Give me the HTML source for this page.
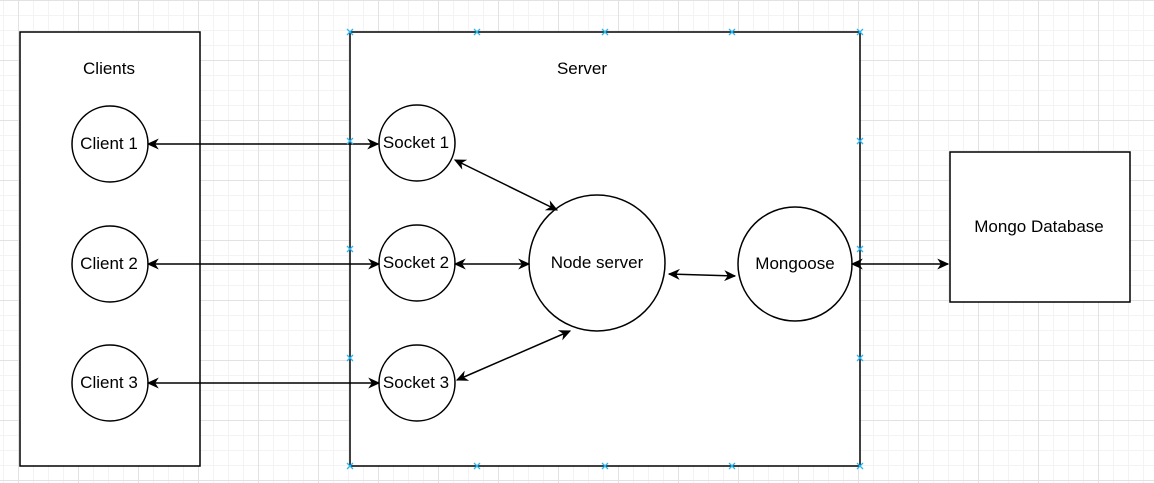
<!DOCTYPE html>
<html><head><style>
html,body{margin:0;padding:0;}
body{width:1154px;height:483px;overflow:hidden;background:#fff;
background-image:
linear-gradient(to right,#e2e2e2 1px,transparent 1px),
linear-gradient(to bottom,#e2e2e2 1px,transparent 1px),
linear-gradient(to right,#f3f3f3 1px,transparent 1px),
linear-gradient(to bottom,#f3f3f3 1px,transparent 1px);
background-size:60px 60px,60px 60px,15px 15px,15px 15px;
background-position:18px 0,0 0,3px 0,0 0;}
text{font-family:"Liberation Sans",sans-serif;font-size:17px;fill:#000;}
</style></head><body>
<svg width="1154" height="483" xmlns="http://www.w3.org/2000/svg" style="position:absolute;left:0;top:0">
<defs>
<marker id="a" viewBox="0 0 10 10" refX="9" refY="5" markerWidth="12" markerHeight="11" orient="auto-start-reverse" markerUnits="userSpaceOnUse" preserveAspectRatio="none">
<path d="M0,0 L10,5 L0,10 L3,5 Z" fill="#000"/>
</marker>
</defs>
<g stroke="#000" stroke-width="1.5">
<rect x="20" y="32" width="180" height="434" fill="#fff"/>
<rect x="350" y="32" width="510" height="434" fill="#fff"/>
<rect x="950" y="152" width="180" height="150" fill="#fff"/>
<circle cx="110" cy="144" r="38" fill="#fff"/>
<circle cx="110" cy="264" r="38" fill="#fff"/>
<circle cx="110" cy="383" r="38" fill="#fff"/>
<circle cx="417" cy="143" r="38" fill="#fff"/>
<circle cx="417" cy="263" r="38" fill="#fff"/>
<circle cx="417" cy="383" r="38" fill="#fff"/>
<circle cx="597" cy="263" r="68" fill="#fff"/>
<circle cx="795" cy="264" r="57" fill="#fff"/>
</g>
<g stroke="#000" stroke-width="1.5" fill="none" marker-start="url(#a)" marker-end="url(#a)">
<line x1="148" y1="144" x2="378" y2="144"/>
<line x1="148" y1="264" x2="379" y2="264"/>
<line x1="148" y1="383" x2="379" y2="383"/>
<line x1="455" y1="160" x2="557" y2="210"/>
<line x1="455" y1="264" x2="529" y2="264"/>
<line x1="457" y1="380" x2="570" y2="331"/>
<line x1="669" y1="274" x2="735" y2="276"/>
<line x1="852" y1="264" x2="948" y2="264"/>
</g>
<g stroke="#29b6f2" stroke-width="1.3">
<path d="M347,29l6,6m0,-6l-6,6 M474,29l6,6m0,-6l-6,6 M602,29l6,6m0,-6l-6,6 M729,29l6,6m0,-6l-6,6 M857,29l6,6m0,-6l-6,6
M347,463l6,6m0,-6l-6,6 M474,463l6,6m0,-6l-6,6 M602,463l6,6m0,-6l-6,6 M729,463l6,6m0,-6l-6,6 M857,463l6,6m0,-6l-6,6
M347,138l6,6m0,-6l-6,6 M347,246l6,6m0,-6l-6,6 M347,355l6,6m0,-6l-6,6
M857,138l6,6m0,-6l-6,6 M857,246l6,6m0,-6l-6,6 M857,355l6,6m0,-6l-6,6"/>
</g>
<g text-anchor="middle">
<text x="109" y="74">Clients</text>
<text x="582" y="74">Server</text>
<text x="109" y="149">Client 1</text>
<text x="109" y="269">Client 2</text>
<text x="109" y="388">Client 3</text>
<text x="416" y="148">Socket 1</text>
<text x="416" y="268">Socket 2</text>
<text x="416" y="388">Socket 3</text>
<text x="597" y="268">Node server</text>
<text x="795" y="269">Mongoose</text>
<text x="1039" y="232">Mongo Database</text>
</g>
</svg>
</body></html>
